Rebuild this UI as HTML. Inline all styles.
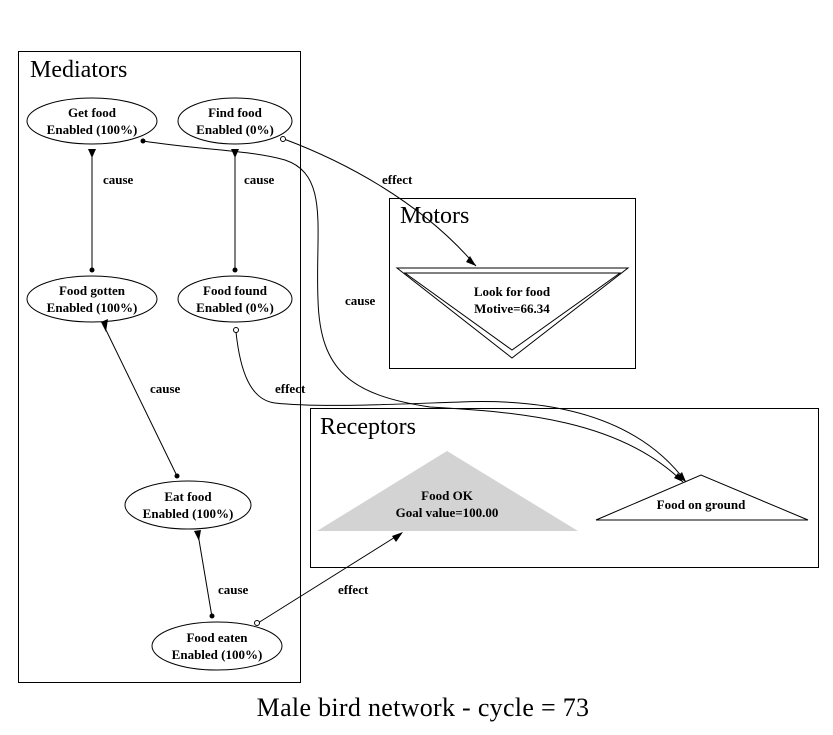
<!DOCTYPE html>
<html><head><meta charset="utf-8"><style>
html,body{margin:0;padding:0;background:#fff;width:833px;height:735px;overflow:hidden}
text{font-family:"Liberation Serif",serif}
.n{font-size:13px;font-weight:bold;text-anchor:middle}
.l{font-size:13px;font-weight:bold}
.t{font-size:24px}
</style></head><body>
<svg width="833" height="735" viewBox="0 0 833 735" xmlns="http://www.w3.org/2000/svg">
<g fill="none" stroke="#000" stroke-width="1">
<rect x="18.5" y="51.5" width="282" height="631"/>
<rect x="389.5" y="198.5" width="246" height="170"/>
<rect x="310.5" y="408.5" width="508" height="159"/>
</g>
<text x="30" y="77" class="t">Mediators</text>
<text x="400" y="223" class="t">Motors</text>
<text x="320" y="434" class="t">Receptors</text>
<polygon points="397,268 628,268 512,358" fill="#fff" stroke="#000"/>
<polygon points="405,273 620,273 512,350" fill="none" stroke="#000"/>
<text x="512" y="296" class="n">Look for food</text>
<text x="512" y="313" class="n">Motive=66.34</text>
<polygon points="317,531 578,531 447,451" fill="#d3d3d3"/>
<text x="447" y="500" class="n">Food OK</text>
<text x="447" y="517" class="n">Goal value=100.00</text>
<polygon points="596,520 808,520 701,475" fill="#fff" stroke="#000"/>
<text x="701" y="509" class="n">Food on ground</text>
<g fill="#fff" stroke="#000">
<ellipse cx="92" cy="121" rx="65" ry="23"/>
<ellipse cx="235" cy="121" rx="57" ry="23"/>
<ellipse cx="92" cy="299" rx="65" ry="23"/>
<ellipse cx="235" cy="299" rx="57" ry="23"/>
<ellipse cx="188" cy="505" rx="63" ry="24"/>
<ellipse cx="217" cy="646" rx="65" ry="24"/>
</g>
<text x="92" y="117" class="n">Get food</text><text x="92" y="134" class="n">Enabled (100%)</text>
<text x="235" y="117" class="n">Find food</text><text x="235" y="134" class="n">Enabled (0%)</text>
<text x="92" y="295" class="n">Food gotten</text><text x="92" y="312" class="n">Enabled (100%)</text>
<text x="235" y="295" class="n">Food found</text><text x="235" y="312" class="n">Enabled (0%)</text>
<text x="188" y="501" class="n">Eat food</text><text x="188" y="518" class="n">Enabled (100%)</text>
<text x="217" y="642" class="n">Food eaten</text><text x="217" y="659" class="n">Enabled (100%)</text>
<g fill="none" stroke="#000" stroke-width="1">
<line x1="92" y1="150" x2="92" y2="270"/>
<line x1="235" y1="150" x2="235" y2="270"/>
<line x1="106" y1="330" x2="177" y2="476"/>
<line x1="198" y1="534" x2="212" y2="617"/>
<path d="M284,139 C340,160 420,200 476,266"/>
<path d="M236,332 C240,370 250,400 275,403 C320,408 400,404 460,402 C560,398 640,420 686,482"/>
<path d="M143,141 C200,150 250,150 285,160 C330,175 315,230 318,300 C320,370 350,395 430,407 C520,412 620,420 683,482"/>
<line x1="258" y1="623" x2="400" y2="534"/>
</g>
<g fill="#000">
<polygon points="88,149 96,149 92,158"/>
<polygon points="231,149 239,149 235,158"/>
<polygon points="101,322 108,319 106,332"/>
<polygon points="194,531 201,530 199,541"/>
<circle cx="92" cy="270" r="2.5"/>
<circle cx="235" cy="270" r="2.5"/>
<circle cx="177" cy="476" r="2.5"/>
<circle cx="212" cy="616" r="2.5"/>
<circle cx="143" cy="141" r="2.5"/>
<polygon points="476,266 466,262 470,256"/>
<polygon points="686,482 677,477 682,472"/>
<polygon points="683,482 674,478 678,473"/>
<polygon points="403,532 392,536 396,542"/>
</g>
<g fill="#fff" stroke="#000">
<circle cx="283" cy="139" r="2.5"/>
<circle cx="236" cy="330" r="2.5"/>
<circle cx="257" cy="623" r="2.5"/>
</g>
<text x="103" y="184" class="l">cause</text>
<text x="244" y="184" class="l">cause</text>
<text x="150" y="393" class="l">cause</text>
<text x="218" y="594" class="l">cause</text>
<text x="345" y="305" class="l">cause</text>
<text x="382" y="184" class="l">effect</text>
<text x="275" y="393" class="l">effect</text>
<text x="338" y="594" class="l">effect</text>
<text x="423" y="716" text-anchor="middle" style="font-size:26px;letter-spacing:0.3px">Male bird network - cycle = 73</text>
</svg>
</body></html>
